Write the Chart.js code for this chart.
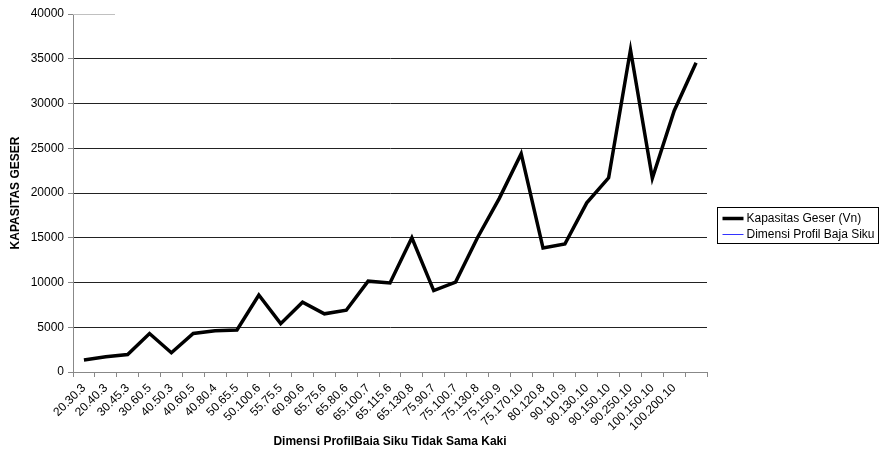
<!DOCTYPE html>
<html>
<head>
<meta charset="utf-8">
<script src="https://cdn.jsdelivr.net/npm/chart.js@4/dist/chart.umd.min.js"></script>
<style>
  html, body { margin: 0; padding: 0; background: #fff; }
  #wrap { width: 881px; height: 459px; position: relative; }
</style>
</head>
<body>
<div id="wrap"><canvas id="chartGeser"></canvas></div>
<script>
// dimensi profil (kategori sumbu x), slot terakhir tanpa label seperti di gambar
var profil = ['20.30.3', '20.40.3', '30.45.3', '30.60.5', '40.50.3', '40.60.5', '40.80.4',
    '50.65.5', '50.100.6', '55.75.5', '60.90.6', '65.75.6', '65.80.6', '65.100.7',
    '65.115.6', '65.130.8', '75.90.7', '75.100.7', '75.130.8', '75.150.9', '75.170.10',
    '80.120.8', '90.110.9', '90.130.10', '90.150.10', '90.250.10', '100.150.10',
    '100.200.10', ''];
var kapasitasGeser = [1350, 1700, 1950, 4300, 2150, 4300, 4600, 4700, 8600, 5400, 7800,
    6500, 6900, 10150, 9950, 15000, 9100, 10050, 15000, 19400, 24400, 13850, 14300,
    18900, 21700, 36000, 21650, 29200, 34550];
var dimensiProfil = [];
var yTicks = [0, 5000, 10000, 15000, 20000, 25000, 30000, 35000, 40000];

var fontFam = "'Liberation Sans', Arial, sans-serif";

// legend kotak di kanan + garis abu pendek di 40000
var legendKotak = {
    id: 'legendKotak',
    afterDraw: function (chart) {
        var ctx = chart.ctx;
        var area = chart.chartArea;
        var y40 = chart.scales.y.getPixelForValue(40000);
        ctx.save();
        ctx.strokeStyle = '#c0c0c0';
        ctx.lineWidth = 1;
        ctx.beginPath();
        ctx.moveTo(area.left, Math.round(y40) + 0.5);
        ctx.lineTo(area.left + 42, Math.round(y40) + 0.5);
        ctx.stroke();

        var x0 = area.right + 10.5, y0 = 207.5, w = 161, h = 36;
        ctx.strokeStyle = '#000';
        ctx.strokeRect(x0, y0, w, h);
        ctx.font = '12px ' + fontFam;
        ctx.textBaseline = 'middle';
        ctx.fillStyle = '#000';
        var ds = chart.data.datasets;
        for (var i = 0; i < ds.length; i++) {
            var yy = y0 + 11 + i * 16;
            ctx.strokeStyle = ds[i].borderColor;
            ctx.lineWidth = ds[i].borderWidth;
            ctx.beginPath();
            ctx.moveTo(x0 + 5, yy);
            ctx.lineTo(x0 + 26, yy);
            ctx.stroke();
            ctx.fillText(ds[i].label, x0 + 29, yy + 0.5);
        }
        ctx.restore();
    }
};

const config = {
    type: 'line',
    data: {
        labels: profil,
        datasets: [{
            label: 'Kapasitas Geser (Vn)',
            data: kapasitasGeser,
            borderColor: '#000',
            backgroundColor: '#000',
            borderWidth: 3.5,
            pointRadius: 0,
            tension: 0
        }, {
            label: 'Dimensi Profil Baja Siku',
            data: dimensiProfil,
            borderColor: '#3333ff',
            backgroundColor: '#3333ff',
            borderWidth: 1,
            pointRadius: 0
        }]
    },
    options: {
        responsive: true,
        maintainAspectRatio: false,
        animation: false,
        layout: { padding: { top: 14, right: 174, left: 0, bottom: 0 } },
        plugins: {
            legend: { display: false },
            tooltip: { enabled: false }
        },
        scales: {
            x: {
                offset: true,
                grid: {
                    offset: true,
                    drawOnChartArea: false,
                    drawTicks: true,
                    tickLength: 5,
                    tickColor: '#888'
                },
                border: { color: '#888' },
                ticks: {
                    minRotation: 45,
                    maxRotation: 45,
                    autoSkip: false,
                    padding: 4,
                    color: '#000',
                    font: { family: fontFam, size: 12 }
                },
                title: {
                    display: true,
                    text: 'Dimensi ProfilBaia Siku Tidak Sama Kaki',
                    color: '#000',
                    font: { family: fontFam, size: 12, weight: 'bold' },
                    padding: { top: 0, bottom: 10 }
                },
                afterFit: function (scale) { scale.height = 87; }
            },
            y: {
                min: 0,
                max: 40000,
                afterBuildTicks: function (scale) {
                    scale.ticks = yTicks.map(function (v) { return { value: v }; });
                },
                grid: {
                    color: function (c) {
                        if (c.tick && c.tick.value === 40000) return 'rgba(0,0,0,0)';
                        return '#222';
                    },
                    tickLength: 5,
                    tickColor: '#888'
                },
                border: { color: '#888' },
                ticks: {
                    padding: 4,
                    color: '#000',
                    font: { family: fontFam, size: 12 },
                    callback: function (v) { return String(v); }
                },
                title: {
                    display: true,
                    text: 'KAPASITAS GESER',
                    color: '#000',
                    font: { family: fontFam, size: 12, weight: 'bold' },
                    padding: { top: 8, bottom: 0 }
                },
                afterFit: function (scale) { scale.width = 73; }
            }
        }
    },
    plugins: [legendKotak]
};

new Chart(
    document.getElementById('chartGeser'),
    config
);
</script>
</body>
</html>
